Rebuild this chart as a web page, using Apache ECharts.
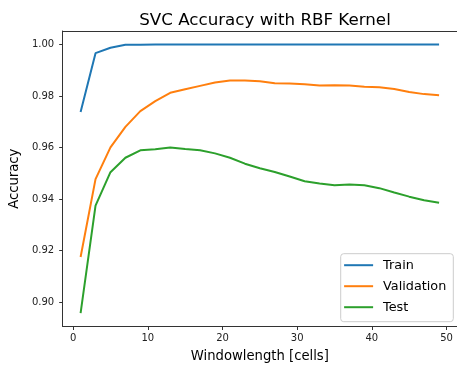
<!DOCTYPE html>
<html><head><meta charset="utf-8">
<script src="https://cdn.jsdelivr.net/npm/echarts@6/dist/echarts.min.js"></script>
<style>html,body{margin:0;padding:0;background:#fff}#c{width:457px;height:368px}</style>
</head><body><div id="c"></div>
<script>
const windowLengths = [1,3,5,7,9,11,13,15,17,19,21,23,25,27,29,31,33,35,37,39,41,43,45,47,49];
const train = [0.9738,0.9966,0.9987,0.9999,0.9999,1.0,1.0,1.0,1.0,1.0,1.0,1.0,1.0,1.0,1.0,1.0,1.0,1.0,1.0,1.0,1.0,1.0,1.0,1.0,1.0];
const validation = [0.9175,0.9477,0.9600,0.9680,0.9741,0.9780,0.9812,0.9826,0.9839,0.9852,0.9860,0.9860,0.9857,0.9849,0.9848,0.9845,0.9840,0.9841,0.9840,0.9836,0.9834,0.9827,0.9815,0.9807,0.9803];
const test = [0.8957,0.9374,0.9504,0.9560,0.9589,0.9593,0.9600,0.9594,0.9589,0.9577,0.9560,0.9537,0.9519,0.9505,0.9487,0.9469,0.9460,0.9453,0.9456,0.9453,0.9442,0.9425,0.9409,0.9395,0.9385];
const xTicks = [0,10,20,30,40,50];
const yTicks = [0.90,0.92,0.94,0.96,0.98,1.00];
const seriesNames = ['Train','Validation','Test'];
const colors = ['#1f77b4','#ff7f0e','#2ca02c'];

const font = 'DejaVu Sans';
const pair = arr => windowLengths.map((x,i)=>[x,arr[i]]);
const chart = echarts.init(document.getElementById('c'), null, {renderer:'canvas'});
chart.setOption({
  animation:false,
  color:colors,
  title:{text:'SVC Accuracy with RBF Kernel',left:260,textAlign:'center',top:7,
    textStyle:{fontFamily:font,fontSize:16.7,fontWeight:'normal',color:'#000'}},
  grid:{left:60.4,top:31,width:399.6,height:295.7,show:false},
  legend:{orient:'vertical',right:3.7,top:253.7,data:seriesNames,icon:'rect',itemWidth:29,itemHeight:2,itemGap:8,
    padding:[5,7,8,3.4],backgroundColor:'rgba(255,255,255,0.8)',borderColor:'#ccc',borderWidth:1,borderRadius:3,
    textStyle:{fontFamily:font,fontSize:12.8,color:'#000',padding:[0,0,0,5]}},
  xAxis:[{type:'value',min:-1.4,max:51.4,
    name:'Windowlength [cells]',nameLocation:'middle',nameGap:23.5,
    nameTextStyle:{fontFamily:font,fontSize:13.2,color:'#000'},
    axisLine:{show:true,onZero:false,lineStyle:{color:'#333',width:1}},splitLine:{show:false},
    axisTick:{show:true,inside:false,length:3.5,lineStyle:{color:'#333'},customValues:xTicks},
    axisLabel:{fontFamily:font,fontSize:10,color:'#222',margin:7,customValues:xTicks,formatter:v=>String(v)}},
   {type:'value',position:'top',min:-1.4,max:51.4,
    axisLine:{show:true,onZero:false,lineStyle:{color:'#333',width:1}},splitLine:{show:false},
    axisTick:{show:false},axisLabel:{show:false}}],
  yAxis:{type:'value',min:0.8905,max:1.0052,
    name:'Accuracy',nameLocation:'middle',nameGap:36,nameRotate:90,
    nameTextStyle:{fontFamily:font,fontSize:13.2,color:'#000'},
    axisLine:{show:true,onZero:false,lineStyle:{color:'#333',width:1}},splitLine:{show:false},
    axisTick:{show:true,inside:false,length:3.5,lineStyle:{color:'#333'},customValues:yTicks},
    axisLabel:{fontFamily:font,fontSize:10,color:'#222',margin:8.5,customValues:yTicks,formatter:v=>v.toFixed(2)}},
  series:[
    {name:seriesNames[0],type:'line',data:pair(train),showSymbol:false,lineStyle:{width:2},z:3},
    {name:seriesNames[1],type:'line',data:pair(validation),showSymbol:false,lineStyle:{width:2},z:3},
    {name:seriesNames[2],type:'line',data:pair(test),showSymbol:false,lineStyle:{width:2},z:3}
  ]
});
</script></body></html>
